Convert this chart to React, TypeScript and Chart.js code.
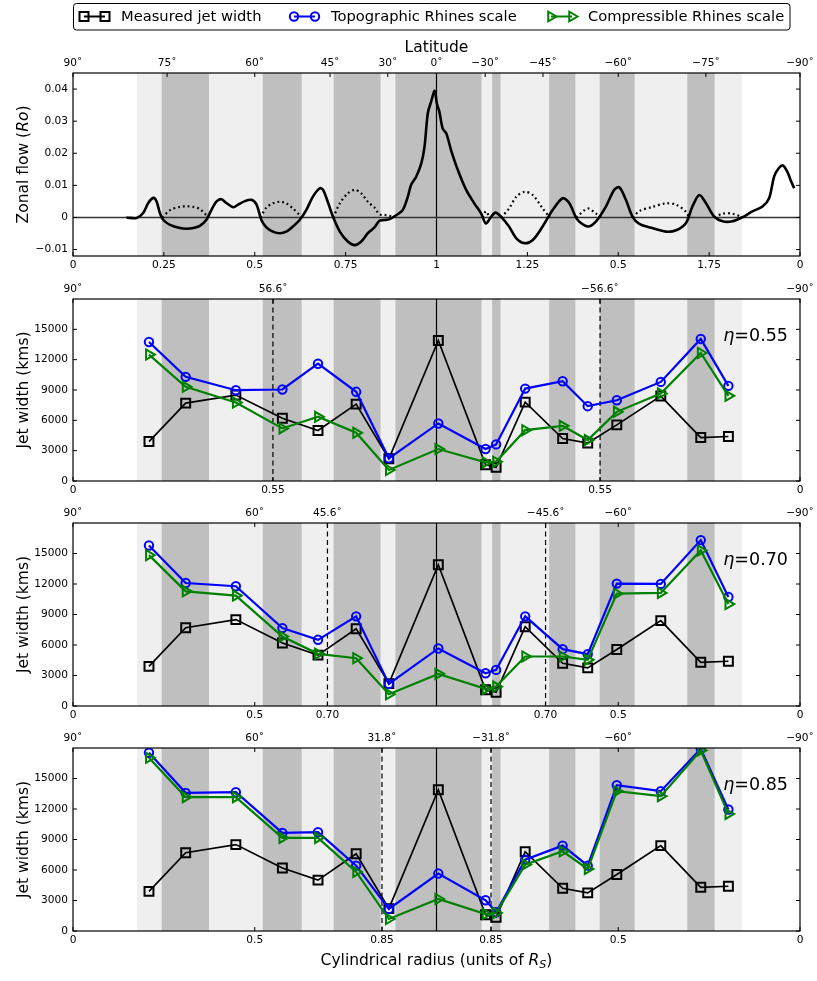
import { useEffect, useRef } from "react"
import { Chart, registerables } from "chart.js"

Chart.register(...registerables)
Chart.defaults.font.family = "'DejaVu Sans', sans-serif"
Chart.defaults.color = "#000"

document.body.style.margin = "0"

// Zonal flow profile. Cylindrical radius 0..1 is the north, 1..2 the mirrored south
const flowS = [
  0.147, 0.175, 0.193, 0.207, 0.221, 0.23, 0.239, 0.248, 0.267, 0.294, 0.312, 0.331, 0.349, 0.367,
  0.381, 0.395, 0.408, 0.422, 0.441, 0.454, 0.473, 0.491, 0.505, 0.518, 0.532, 0.55, 0.569, 0.587,
  0.605, 0.624, 0.642, 0.66, 0.679, 0.688, 0.702, 0.715, 0.734, 0.756, 0.775, 0.793, 0.811, 0.83,
  0.843, 0.857, 0.871, 0.889, 0.907, 0.921, 0.93, 0.944, 0.958, 0.967, 0.976, 0.985, 0.995, 1.001,
  1.008, 1.017, 1.027, 1.04, 1.059, 1.082, 1.104, 1.123, 1.136, 1.15, 1.162, 1.178, 1.2, 1.219,
  1.242, 1.265, 1.292, 1.32, 1.347, 1.365, 1.388, 1.416, 1.439, 1.466, 1.489, 1.503, 1.521, 1.539,
  1.558, 1.594, 1.631, 1.659, 1.686, 1.704, 1.723, 1.741, 1.764, 1.787, 1.814, 1.842, 1.869, 1.897,
  1.915, 1.929, 1.942, 1.953, 1.965, 1.974, 1.984,
]
const flowRo = [
  0, -0.0002, 0.0014, 0.0045, 0.0061, 0.005, 0.0014, -0.0007, -0.0023, -0.0033, -0.0035, -0.0033, -0.0026, -0.0007,
  0.0024, 0.005, 0.0057, 0.0045, 0.0032, 0.004, 0.0051, 0.0055, 0.004, -0.0007, -0.0031, -0.0044, -0.0049, -0.0044,
  -0.0028, -0.0007, 0.0024, 0.0065, 0.0091, 0.0086, 0.0045, 0.0003, -0.0044, -0.0075, -0.0086, -0.0075, -0.0049, -0.003,
  -0.001, -0.0008, -0.0005, 0.0007, 0.0023, 0.0064, 0.0101, 0.0127, 0.0168, 0.022, 0.0324, 0.036, 0.0395, 0.0355,
  0.0329, 0.0277, 0.0262, 0.021, 0.0147, 0.0085, 0.0044, 0.0012, -0.0019, 0.0002, 0.0015, 0.0002, -0.0029, -0.0064,
  -0.008, -0.007, -0.0028, 0.0024, 0.006, 0.0045, -0.0007, -0.0028, -0.0012, 0.0034, 0.0086, 0.0094, 0.0055, 0.0003,
  -0.002, -0.0033, -0.0044, -0.004, -0.0018, 0.0034, 0.007, 0.0045, 0.0003, -0.0012, -0.0012, 0.0001, 0.0019, 0.0034,
  0.006, 0.0128, 0.0154, 0.0162, 0.0143, 0.0117, 0.0091,
]

// dotted mirror of the retrograde parts, null marks a gap
const retroS = [
  0.246, 0.267, 0.294, 0.312, 0.331, 0.349, 0.367, 0.372, 0.45,
  0.516, 0.532, 0.55, 0.569, 0.587, 0.605, 0.624, 0.628, 0.68,
  0.716, 0.734, 0.756, 0.775, 0.793, 0.811, 0.83, 0.843, 0.857, 0.871, 0.882, 1.0,
  1.127, 1.136, 1.146, 1.16,
  1.178, 1.2, 1.219, 1.242, 1.265, 1.292, 1.312, 1.35,
  1.385, 1.416, 1.439, 1.455, 1.5,
  1.54, 1.558, 1.594, 1.631, 1.659, 1.686, 1.695, 1.73,
  1.765, 1.787, 1.814, 1.842,
]
const retroRo = [
  0, 0.0023, 0.0033, 0.0035, 0.0033, 0.0026, 0.0007, 0, null,
  0, 0.0031, 0.0044, 0.0049, 0.0044, 0.0028, 0.0007, 0, null,
  0, 0.0044, 0.0075, 0.0086, 0.0075, 0.0049, 0.003, 0.001, 0.0008, 0.0005, 0, null,
  0, 0.0019, 0, null,
  0, 0.0029, 0.0064, 0.008, 0.007, 0.0028, 0, null,
  0, 0.0028, 0.0012, 0, null,
  0, 0.002, 0.0033, 0.0044, 0.004, 0.0018, 0, null,
  0, 0.0012, 0.0012, 0,
]

const flowTicks = [-0.01, 0, 0.01, 0.02, 0.03, 0.04]
const flowTickLabels = ["\u22120.01", "0", "0.01", "0.02", "0.03", "0.04"]
const flowBottomTicks = [0, 0.25, 0.5, 0.75, 1, 1.25, 1.5, 1.75, 2]
const flowBottomLabels = ["0", "0.25", "0.5", "0.75", "1", "1.25", "0.5", "1.75", "0"]
const flowLatitudes = [90, 75, 60, 45, 30, 0, -30, -45, -60, -75, -90]

// jet positions (cylindrical radius) and widths in km
const jetS = [0.209, 0.31, 0.448, 0.576, 0.674, 0.779, 0.869, 1.005, 1.135, 1.164, 1.244, 1.347, 1.416, 1.496, 1.617, 1.727, 1.803]
const measuredWidth = [3900, 7700, 8500, 6200, 5000, 7600, 2200, 13900, 1600, 1350, 7800, 4200, 3750, 5550, 8400, 4300, 4400]
const topo055 = [13750, 10300, 8980, 9050, 11600, 8820, 2240, 5690, 3160, 3620, 9140, 9870, 7400, 7990, 9800, 14050, 9410]
const comp055 = [12500, 9310, 7760, 5200, 6350, 4770, 1090, 3160, 1840, 1910, 5030, 5460, 4050, 6840, 8650, 12660, 8420]
const topo070 = [15790, 12100, 11780, 7660, 6510, 8820, 2170, 5660, 3220, 3550, 8820, 5590, 5100, 12040, 12010, 16320, 10720]
const comp070 = [14840, 11280, 10860, 6840, 5130, 4700, 1150, 3160, 1680, 1910, 4870, 4870, 4540, 11050, 11120, 15300, 10030]
const topo085 = [17530, 13590, 13650, 9650, 9720, 6430, 2170, 5650, 3020, 1840, 7020, 8400, 6430, 14340, 13750, 17920, 11950]
const comp085 = [17030, 13160, 13160, 9160, 9160, 5810, 1180, 3150, 1670, 1770, 6530, 7840, 6100, 13750, 13260, 17760, 11520]
const widthTicks = [0, 3000, 6000, 9000, 12000, 15000]

// shaded regions (cylindrical radius)
const lightBands = [[0.176, 1.84]]
const darkBands = [
  [0.244, 0.374], [0.522, 0.629], [0.717, 0.846], [0.887, 1.124],
  [1.153, 1.176], [1.31, 1.382], [1.449, 1.545], [1.69, 1.765],
]

const seriesNames = ["Measured jet width", "Topographic Rhines scale", "Compressible Rhines scale"]
const seriesColors = ["#000000", "#0000ff", "#008000"]
const seriesMarkers = ["rect", "circle", "triangle"]
const legendStarts = [84, 294, 551]

const LIGHT = "#efefef"
const DARK = "#bfbfbf"
const FONT = "'DejaVu Sans', sans-serif"

const latToS = (lat: number) => (lat >= 0 ? Math.cos((lat * Math.PI) / 180) : 2 - Math.cos((-lat * Math.PI) / 180))
const latLabel = (lat: number) => `${lat < 0 ? "\u2212" + -lat : lat}\u02da`

type Part = { text: string; italic?: boolean; size?: number; dy?: number }

const panels = [
  {
    kind: "flow", top: 0, height: 280, topH: 73, bottomH: 24,
    yMin: -0.012, yMax: 0.045, yTicks: flowTicks, yLabels: flowTickLabels,
    bottomTicks: flowBottomTicks, bottomLabels: flowBottomLabels, lats: flowLatitudes, dashed: [] as number[],
    yTitle: [{ text: "Zonal flow (" }, { text: "Ro", italic: true }, { text: ")" }] as Part[],
    eta: "", topo: [] as number[], comp: [] as number[],
  },
  {
    kind: "jet", top: 280, height: 222, topH: 19, bottomH: 21,
    yMin: 0, yMax: 18000, yTicks: widthTicks, yLabels: widthTicks.map(String),
    bottomTicks: [0, 0.55, 1.45, 2], bottomLabels: ["0", "0.55", "0.55", "0"], lats: [90, 56.6, -56.6, -90], dashed: [0.55, 1.45],
    yTitle: [{ text: "Jet width (kms)" }] as Part[],
    eta: "0.55", topo: topo055, comp: comp055,
  },
  {
    kind: "jet", top: 502, height: 223, topH: 21, bottomH: 19,
    yMin: 0, yMax: 18000, yTicks: widthTicks, yLabels: widthTicks.map(String),
    bottomTicks: [0, 0.5, 0.7, 1.3, 1.5, 2], bottomLabels: ["0", "0.5", "0.70", "0.70", "0.5", "0"], lats: [90, 60, 45.6, -45.6, -60, -90], dashed: [0.7, 1.3],
    yTitle: [{ text: "Jet width (kms)" }] as Part[],
    eta: "0.70", topo: topo070, comp: comp070,
  },
  {
    kind: "jet", top: 725, height: 256, topH: 23, bottomH: 50,
    yMin: 0, yMax: 18000, yTicks: widthTicks, yLabels: widthTicks.map(String),
    bottomTicks: [0, 0.5, 0.85, 1.15, 1.5, 2], bottomLabels: ["0", "0.5", "0.85", "0.85", "0.5", "0"], lats: [90, 60, 31.8, -31.8, -60, -90], dashed: [0.85, 1.15],
    yTitle: [{ text: "Jet width (kms)" }] as Part[],
    eta: "0.85", topo: topo085, comp: comp085,
  },
]

type PanelDef = (typeof panels)[number]

function drawParts(ctx: CanvasRenderingContext2D, parts: Part[], x: number, y: number, align: string, base: number) {
  const fontOf = (p: Part) => `${p.italic ? "italic " : ""}${p.size || base}px ${FONT}`
  const widths = parts.map((p) => {
    ctx.font = fontOf(p)
    return ctx.measureText(p.text).width
  })
  const total = widths.reduce((a, b) => a + b, 0)
  let cx = align === "center" ? x - total / 2 : align === "right" ? x - total : x
  ctx.textAlign = "left"
  ctx.textBaseline = "alphabetic"
  parts.forEach((p, i) => {
    ctx.font = fontOf(p)
    ctx.fillText(p.text, cx, y + (p.dy || 0))
    cx += widths[i]
  })
}

function drawMarker(ctx: CanvasRenderingContext2D, kind: string, x: number, y: number) {
  ctx.beginPath()
  if (kind === "rect") {
    ctx.rect(x - 4.5, y - 4.5, 9, 9)
  } else if (kind === "circle") {
    ctx.arc(x, y, 4.2, 0, Math.PI * 2)
  } else {
    const r = 5.5
    ctx.moveTo(x + r, y)
    ctx.lineTo(x - r / 2, y - r * 0.866)
    ctx.lineTo(x - r / 2, y + r * 0.866)
    ctx.closePath()
  }
  ctx.stroke()
}

function makeFigurePlugin(p: PanelDef) {
  const line = (ctx: CanvasRenderingContext2D, x0: number, y0: number, x1: number, y1: number) => {
    ctx.beginPath()
    ctx.moveTo(x0, y0)
    ctx.lineTo(x1, y1)
    ctx.stroke()
  }
  return {
    id: "figure",
    beforeDatasetsDraw(chart: any) {
      const { ctx, chartArea: a } = chart
      const x = chart.scales.x
      const y = chart.scales.y
      ctx.save()
      ctx.beginPath()
      ctx.rect(a.left, a.top, a.right - a.left, a.bottom - a.top)
      ctx.clip()
      const band = (s0: number, s1: number, color: string) => {
        const x0 = x.getPixelForValue(s0)
        const x1 = x.getPixelForValue(s1)
        ctx.fillStyle = color
        ctx.fillRect(x0, a.top, x1 - x0, a.bottom - a.top)
      }
      lightBands.forEach(([s0, s1]) => band(s0, s1, LIGHT))
      darkBands.forEach(([s0, s1]) => band(s0, s1, DARK))

      ctx.strokeStyle = "#000"
      ctx.lineWidth = 1.2
      const xe = x.getPixelForValue(1)
      line(ctx, xe, a.top, xe, a.bottom)
      if (p.kind === "flow") {
        const y0 = y.getPixelForValue(0)
        ctx.strokeStyle = "#333"
        ctx.lineWidth = 1.5
        line(ctx, a.left, y0, a.right, y0)
      }
      ctx.strokeStyle = "#000"
      ctx.lineWidth = 1.2
      ctx.setLineDash([5, 3.5])
      p.dashed.forEach((s) => {
        const xd = x.getPixelForValue(s)
        line(ctx, xd, a.top, xd, a.bottom)
      })
      ctx.restore()
    },
    afterDraw(chart: any) {
      const { ctx, chartArea: a } = chart
      const { x, x2, y } = chart.scales
      ctx.save()
      ctx.strokeStyle = "#000"
      ctx.fillStyle = "#000"
      ctx.lineWidth = 1.2
      ctx.strokeRect(a.left, a.top, a.right - a.left, a.bottom - a.top)

      // inward ticks on all four sides
      const tl = 4
      ctx.lineWidth = 1
      x.ticks.forEach((t: any) => {
        const px = x.getPixelForValue(t.value)
        line(ctx, px, a.bottom, px, a.bottom - tl)
      })
      x2.ticks.forEach((t: any) => {
        const px = x2.getPixelForValue(t.value)
        line(ctx, px, a.top, px, a.top + tl)
      })
      y.ticks.forEach((t: any) => {
        const py = y.getPixelForValue(t.value)
        line(ctx, a.left, py, a.left + tl, py)
        line(ctx, a.right, py, a.right - tl, py)
      })

      // y title
      ctx.save()
      ctx.translate(27.5, (a.top + a.bottom) / 2)
      ctx.rotate(-Math.PI / 2)
      drawParts(ctx, p.yTitle, 0, 0, "center", 15.5)
      ctx.restore()

      const cx = (a.left + a.right) / 2
      if (p.eta) {
        drawParts(ctx, [{ text: "\u03b7", italic: true }, { text: "=" + p.eta }], 788, a.top + 41.5, "right", 17.5)
      }
      if (p.kind === "flow") {
        drawParts(ctx, [{ text: "Latitude" }], cx, 51.5, "center", 15.5)

        // legend
        ctx.lineWidth = 1
        ctx.beginPath()
        ctx.roundRect(73.5, 3.5, 716.5, 26.5, 3)
        ctx.stroke()
        seriesNames.forEach((name, i) => {
          const ly = 16.5
          const start = legendStarts[i]
          ctx.strokeStyle = seriesColors[i]
          ctx.lineWidth = 2
          line(ctx, start, ly, start + 21, ly)
          drawMarker(ctx, seriesMarkers[i], start, ly)
          drawMarker(ctx, seriesMarkers[i], start + 21, ly)
          ctx.fillStyle = "#000"
          drawParts(ctx, [{ text: name }], start + 37, 21, "left", 14.7)
        })
      }
      if (p.top === 725) {
        drawParts(
          ctx,
          [
            { text: "Cylindrical radius (units of " },
            { text: "R", italic: true },
            { text: "S", italic: true, size: 11, dy: 3 },
            { text: ")" },
          ],
          cx,
          a.bottom + 34,
          "center",
          15.5,
        )
      }
      ctx.restore()
    },
  }
}

function Panel({ p }: { p: PanelDef }) {
  const chartRef = useRef<HTMLCanvasElement>(null)

  useEffect(() => {
    if (!chartRef.current) return
    const tickFont = { size: 10.6, family: FONT }

    const datasets: any[] =
      p.kind === "flow"
        ? [
            {
              data: flowS.map((s, i) => ({ x: s, y: flowRo[i] })),
              borderColor: "#000",
              borderWidth: 2.6,
              pointRadius: 0,
              tension: 0.3,
            },
            {
              data: retroS.map((s, i) => ({ x: s, y: retroRo[i] })),
              borderColor: "#000",
              borderWidth: 2.2,
              borderDash: [1.8, 3],
              pointRadius: 0,
              tension: 0.3,
              spanGaps: false,
            },
          ]
        : [measuredWidth, p.topo, p.comp].map((values, k) => ({
            label: seriesNames[k],
            data: jetS.map((s, i) => ({ x: s, y: values[i] })),
            borderColor: seriesColors[k],
            borderWidth: k === 0 ? 1.7 : 2.2,
            pointStyle: seriesMarkers[k],
            pointRotation: k === 2 ? 90 : 0,
            pointRadius: k === 0 ? 6.3 : k === 1 ? 4.2 : 5.8,
            pointBorderWidth: 2,
            pointBorderColor: seriesColors[k],
            pointBackgroundColor: "rgba(0,0,0,0)",
            tension: 0,
            order: 3 - k,
          }))

    const chart = new Chart(chartRef.current, {
      type: "line",
      data: { datasets },
      options: {
        responsive: false,
        animation: false,
        layout: { padding: { left: 0, right: 17, top: 0, bottom: 0 } },
        plugins: { legend: { display: false }, tooltip: { enabled: false } },
        scales: {
          x: {
            type: "linear",
            position: "bottom",
            min: 0,
            max: 2,
            grid: { display: false, drawTicks: false },
            border: { display: false },
            afterBuildTicks: (scale: any) => {
              scale.ticks = p.bottomTicks.map((v) => ({ value: v }))
            },
            afterFit: (scale: any) => {
              scale.height = p.bottomH
            },
            ticks: {
              font: tickFont,
              color: "#000",
              padding: 3,
              autoSkip: false,
              maxRotation: 0,
              callback: (_v: any, i: number) => p.bottomLabels[i],
            },
          },
          x2: {
            type: "linear",
            position: "top",
            min: 0,
            max: 2,
            grid: { display: false, drawTicks: false },
            border: { display: false },
            afterBuildTicks: (scale: any) => {
              scale.ticks = p.lats.map((lat) => ({ value: latToS(lat) }))
            },
            afterFit: (scale: any) => {
              scale.height = p.topH
            },
            ticks: {
              font: tickFont,
              color: "#000",
              padding: 3,
              autoSkip: false,
              maxRotation: 0,
              callback: (_v: any, i: number) => latLabel(p.lats[i]),
            },
          },
          y: {
            type: "linear",
            position: "left",
            min: p.yMin,
            max: p.yMax,
            grid: { display: false, drawTicks: false },
            border: { display: false },
            afterBuildTicks: (scale: any) => {
              scale.ticks = p.yTicks.map((v) => ({ value: v }))
            },
            afterFit: (scale: any) => {
              scale.width = 73
            },
            ticks: {
              font: tickFont,
              color: "#000",
              padding: 5,
              autoSkip: false,
              callback: (_v: any, i: number) => p.yLabels[i],
            },
          },
        },
      },
      plugins: [makeFigurePlugin(p)],
    })

    return () => {
      chart.destroy()
    }
  }, [p])

  return (
    <div style={{ position: "absolute", left: 0, top: p.top, width: 817, height: p.height }}>
      <canvas ref={chartRef} width={817} height={p.height} style={{ display: "block" }} />
    </div>
  )
}

export default function App() {
  return (
    <div style={{ position: "relative", width: 817, height: 981, background: "#fff" }}>
      {panels.map((p, i) => (
        <Panel key={i} p={p} />
      ))}
    </div>
  )
}
